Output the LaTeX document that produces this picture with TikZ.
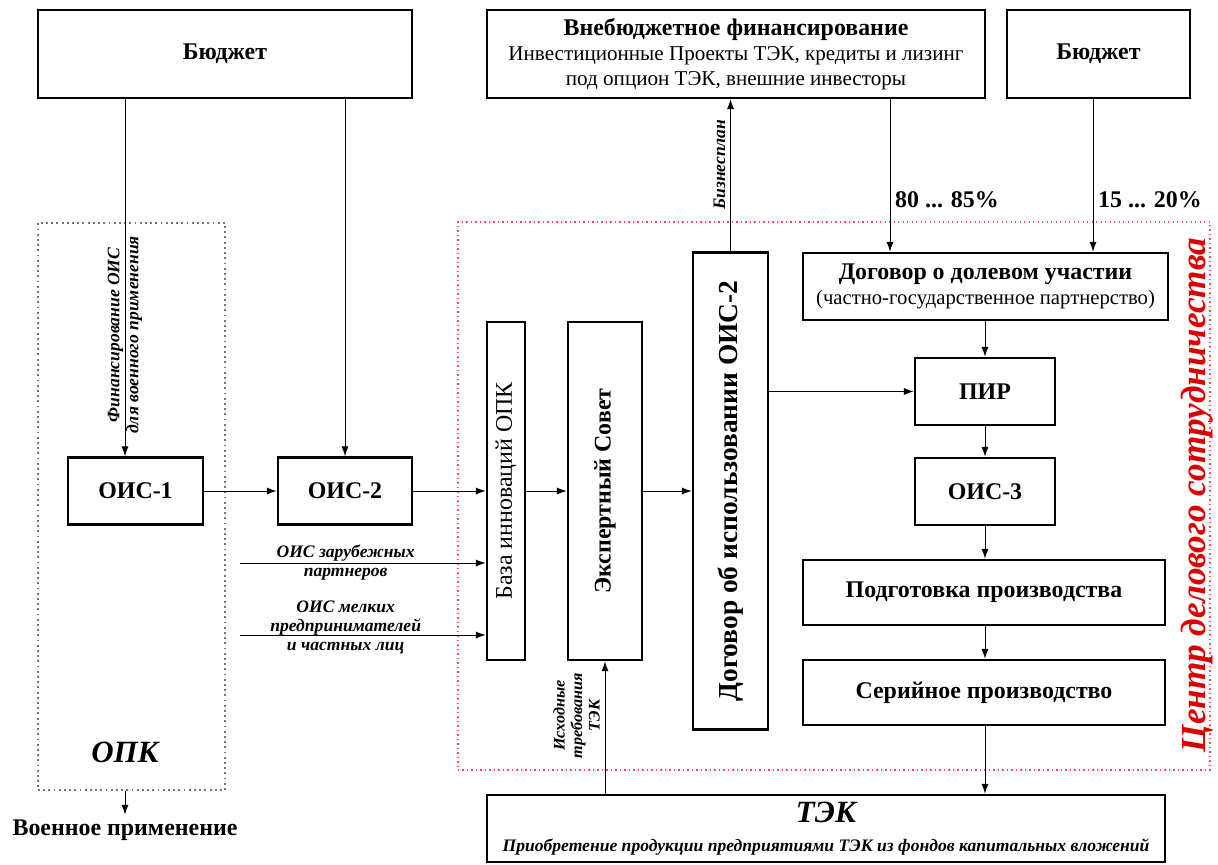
\documentclass[tikz,border=0pt]{standalone}
\usepackage{fontspec}
\setmainfont{Liberation Serif}
\usetikzlibrary{arrows.meta}
\tikzset{box/.style={draw,line width=1.8pt,inner sep=2pt,align=center}}
\tikzset{conn/.style={draw,line width=0.7pt,-{Latex[length=7pt,width=5pt]}}}
\tikzset{opkzone/.style={draw=black!55,line width=1.3pt,dash pattern=on 1.3pt off 2.4pt}}
\tikzset{coopzone/.style={draw=red!70,line width=1pt,dash pattern=on 1pt off 2.2pt}}
\tikzset{big/.style={font=\fontsize{17}{19}\selectfont\bfseries}}
\tikzset{tall/.style={font=\fontsize{17}{20}\selectfont}}
\tikzset{tallb/.style={font=\fontsize{17}{20}\selectfont\bfseries}}
\tikzset{note/.style={font=\fontsize{12.5}{13.5}\selectfont\bfseries\itshape,align=center}}
\tikzset{huge/.style={font=\fontsize{22}{24}\selectfont\bfseries\itshape}}

\begin{document}
\begin{tikzpicture}[x=0.025cm,y=-0.025cm]
          \useasboundingbox (0,0) rectangle (1218,864);
          % zones
          \node[opkzone,minimum width=4.675cm,minimum height=14.175cm] (opk) at (131.5,506.5) {};
          \node[coopzone,minimum width=18.8cm,minimum height=13.7cm] (coop) at (834,496) {};
          \node[huge] (opkname) at (125,752) {ОПК};
          \node[huge,font=\fontsize{25}{27}\selectfont\bfseries\itshape,red!85!black,rotate=90] (coopname) at (1197,495) {Центр делового сотрудничества};
          % top row
          \node[box,big,minimum width=9.35cm,minimum height=2.2cm] (budgetA) at (225,54) {Бюджет};
          \node[box,minimum width=12.45cm,minimum height=2.2cm,font=\fontsize{15}{18}\selectfont] (extra) at (736,54)
               {{\fontsize{17}{18}\selectfont\bfseries Внебюджетное финансирование}\\
                Инвестиционные Проекты ТЭК, кредиты и лизинг\\
                под опцион ТЭК, внешние инвесторы};
          \node[box,big,minimum width=4.575cm,minimum height=2.2cm] (budgetB) at (1098.5,54) {Бюджет};
          % left part
          \node[box,big,minimum width=3.375cm,minimum height=1.675cm] (ois1) at (135.5,491) {ОИС-1};
          \node[box,big,minimum width=3.35cm,minimum height=1.675cm] (ois2) at (345,491) {ОИС-2};
          \node[box,tall,rotate=90,minimum width=8.45cm,minimum height=0.95cm] (base) at (506,491) {База инноваций ОПК};
          \node[box,tallb,rotate=90,minimum width=8.45cm,minimum height=1.85cm] (expert) at (605,491) {Экспертный Совет};
          \node[box,tallb,font=\fontsize{19.5}{21}\selectfont\bfseries,rotate=90,minimum width=11.925cm,minimum height=1.875cm] (contract) at (730.5,491) {Договор об использовании ОИС-2};
          % right column
          \node[box,minimum width=9.125cm,minimum height=1.675cm,font=\fontsize{14.7}{18}\selectfont] (share) at (985.5,286.5)
               {{\fontsize{17}{18}\selectfont\bfseries Договор о долевом участии}\\(частно-государственное партнерство)};
          \node[box,big,minimum width=3.5cm,minimum height=1.675cm] (pir) at (985,391.5) {ПИР};
          \node[box,big,minimum width=3.5cm,minimum height=1.675cm] (ois3) at (985,491.5) {ОИС-3};
          \node[box,big,minimum width=9.05cm,minimum height=1.625cm] (prep) at (984,592.5) {Подготовка производства};
          \node[box,big,minimum width=9.05cm,minimum height=1.625cm] (serial) at (984,692.5) {Серийное производство};
          \node[box,minimum width=16.95cm,minimum height=1.675cm,font=\fontsize{12.5}{21}\selectfont\bfseries\itshape] (tek) at (826,828.5)
               {{\fontsize{22}{24}\selectfont ТЭК}\\Приобретение продукции предприятиями ТЭК из фондов капитальных вложений};
          \node[big] (mil) at (125,830) {Военное применение};
          % free ends
          \coordinate (fin) at (125,300);
          \coordinate (p80) at (890,200);
          \coordinate (p15) at (1093,200);
          \coordinate (fromA) at (240,563);
          \coordinate (fromB) at (240,635);
          % connectors
          \draw[conn] (budgetA.south -| fin) -- (fin |- ois1.north)
               node[note,rotate=90,pos=.66] {Финансирование ОИС\\для военного применения};
          \draw[conn] (budgetA.south -| ois2) -- (ois2);
          \draw[conn] (ois1) -- (ois2);
          \draw[conn] (ois2) -- (base);
          \draw[conn] (base) -- (expert);
          \draw[conn] (expert) -- (contract);
          \draw[conn] (fromA) -- (fromA -| base.north)
               node[note,pos=.43] {ОИС зарубежных\\партнеров};
          \draw[conn] (fromB) -- (fromB -| base.north)
               node[note,pos=.43,yshift=0.2cm] {ОИС мелких\\предпринимателей\\и частных лиц};
          \draw[conn] (contract.east) -- (contract.east |- extra.south)
               node[note,pos=.57,sloped,above] {Бизнесплан};
          \draw[conn] (contract.south |- pir) -- (pir);
          \draw[conn] (extra.south -| p80) -- (p80 |- share.north)
               node[big,pos=.66,right] {80 ... 85\%};
          \draw[conn] (budgetB.south -| p15) -- (p15 |- share.north)
               node[big,pos=.66,right] {15 ... 20\%};
          \draw[conn] (share.south -| pir) -- (pir);
          \draw[conn] (pir) -- (ois3);
          \draw[conn] (ois3) -- (ois3 |- prep.north);
          \draw[conn] (prep.south -| ois3) -- (ois3 |- serial.north);
          \draw[conn] (serial.south -| ois3) -- (ois3 |- tek.north);
          \draw[conn] (tek.north -| expert) -- (expert.west)
               node[note,font=\fontsize{11.5}{12.5}\selectfont\bfseries\itshape,pos=.59,sloped,above] {Исходные\\требования\\ТЭК};
          \draw[conn] (opk.south -| opkname) -- (mil);
\end{tikzpicture}
\end{document}
